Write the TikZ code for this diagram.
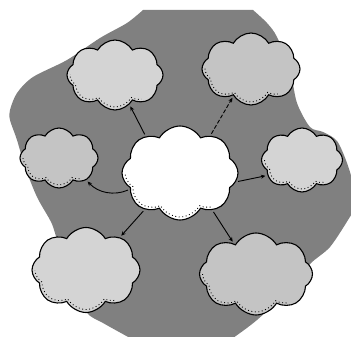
\documentclass[tikz,border=0pt]{standalone}
\usetikzlibrary{shapes.symbols,arrows.meta,calc}
\definecolor{bggray}{HTML}{808080}
\definecolor{cloudA}{HTML}{D4D4D4}
\definecolor{cloudB}{HTML}{C4C4C4}
\begin{document}
\begin{tikzpicture}[x=1pt,y=-1pt,
  puff/.style 2 args={cloud, cloud puffs=8, cloud puff arc=120, draw=black, line width=1.1pt, inner sep=0pt,
    minimum width=#1, minimum height=#2,
    path picture={
      \clip (path picture bounding box.west) rectangle ($(path picture bounding box.south)!0.55!(path picture bounding box.south east)$);
      \node[cloud, cloud puffs=8, cloud puff arc=120, inner sep=0pt, minimum width=#1-6pt, minimum height=#2-6pt,
        draw=black, line width=0.9pt, dash pattern=on 0.9pt off 2.6pt] at (path picture bounding box.center) {};
    }},
  arr/.style={-{Stealth[length=4.5pt,width=4pt]}, line width=0.9pt, shorten >=2pt, shorten <=2pt}]
\useasboundingbox (0,0) rectangle (351,337);
\fill[bggray] (143,10) -- plot[smooth] coordinates {(253,10) (267,23) (277,37) (290,70) (297,103) (310,127) (323,132) (337,141) (347,163) (353,185) (353,212)}
  -- plot[smooth] coordinates {(348,220) (330,247) (310,264) (290,289) (257,320) (233,338)}
  -- plot[smooth] coordinates {(130,338) (103,323) (87,313) (70,285) (55,233) (50,220) (37,197) (25,167) (17,140) (10,120) (10,110) (17,93) (33,77) (67,60) (100,38) (127,23) (143,10)} -- cycle;
\node[puff={116pt}{94pt}, fill=white] (c) at (180,173) {};
\node[puff={96pt}{70pt}, fill=cloudA] (tl) at (115,75) {};
\node[puff={98pt}{72pt}, fill=cloudB] (tr) at (251,69) {};
\node[puff={78pt}{60pt}, fill=cloudB] (l) at (59,158) {};
\node[puff={81pt}{64pt}, fill=cloudA] (r) at (302,160) {};
\node[puff={108pt}{85pt}, fill=cloudA] (bl) at (86,270) {};
\node[puff={113pt}{82pt}, fill=cloudB] (br) at (256,274) {};
\draw[arr] (c.133) -- (tl.296);
\draw[arr, dash pattern=on 4pt off 2pt] (c.51) -- (tr.237);
\draw[arr] (c.198) to[bend left=35] (l.321);
\draw[arr] (c.351) -- (r.204);
\draw[arr] (c.226) -- (bl.44);
\draw[arr] (c.311) -- (br.126);
\end{tikzpicture}
\end{document}
